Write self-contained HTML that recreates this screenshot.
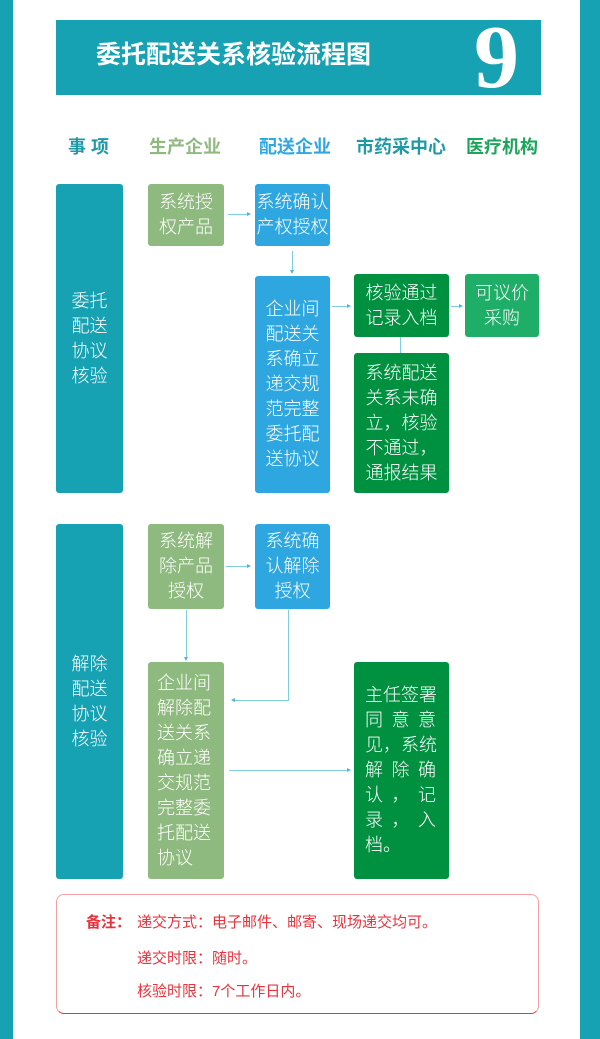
<!DOCTYPE html>
<html><head><meta charset="utf-8"><style>
*{margin:0;padding:0;box-sizing:border-box}
body{width:600px;height:1039px;background:#fff;position:relative;overflow:hidden;font-family:"Liberation Sans","Noto Sans CJK SC",sans-serif}
.a{position:absolute}
.b{position:absolute;border-radius:3px;color:#fff;font-size:18px;line-height:25px;display:flex;align-items:center;justify-content:center;text-align:center;font-weight:300}
.h{position:absolute;top:136px;font-size:18px;font-weight:bold;line-height:22px}
.l{position:absolute;background:#7fcde0}
.tr{position:absolute;width:0;height:0;border-left:4px solid #4bb8d0;border-top:2.5px solid transparent;border-bottom:2.5px solid transparent}
.tl{position:absolute;width:0;height:0;border-right:4px solid #4bb8d0;border-top:2.5px solid transparent;border-bottom:2.5px solid transparent}
.td{position:absolute;width:0;height:0;border-top:4px solid #4bb8d0;border-left:2.5px solid transparent;border-right:2.5px solid transparent}
.j{display:flex;justify-content:space-between;width:71px}
</style></head><body>
<div class="a" style="left:0;top:0;width:13px;height:1039px;background:#17a2b4"></div>
<div class="a" style="left:580px;top:0;width:20px;height:1039px;background:#17a2b4"></div>
<div class="a" style="left:56px;top:20px;width:485px;height:75px;background:#17a2b4"></div>
<div class="a" style="left:96px;top:40px;font-size:25px;font-weight:bold;color:#fff;line-height:30px">委托配送关系核验流程图</div>
<div class="a" style="left:474px;top:10px;font-family:'Liberation Serif',serif;font-size:90px;font-weight:bold;color:#fff;line-height:95px">9</div>

<div class="h" style="left:68px;color:#1e9aa6">事 项</div>
<div class="h" style="left:149px;color:#8fba7f">生产企业</div>
<div class="h" style="left:259px;color:#2ea7e0">配送企业</div>
<div class="h" style="left:356px;color:#1e9aa6">市药采中心</div>
<div class="h" style="left:466px;color:#1aa55a">医疗机构</div>

<div class="b" style="left:56px;top:184px;width:67px;height:309px;background:#17a2b4">委托<br>配送<br>协议<br>核验</div>
<div class="b" style="left:148px;top:184px;width:76px;height:62px;background:#8fba7f">系统授<br>权产品</div>
<div class="b" style="left:255px;top:184px;width:75px;height:62px;background:#2ea7e0">系统确认<br>产权授权</div>
<div class="b" style="left:255px;top:276px;width:75px;height:217px;background:#2ea7e0">企业间<br>配送关<br>系确立<br>递交规<br>范完整<br>委托配<br>送协议</div>
<div class="b" style="left:354px;top:274px;width:95px;height:63px;background:#009140">核验通过<br>记录入档</div>
<div class="b" style="left:465px;top:274px;width:74px;height:63px;background:#1fae68">可议价<br>采购</div>
<div class="b" style="left:354px;top:353px;width:95px;height:140px;background:#009140">系统配送<br>关系未确<br>立，核验<br>不通过，<br>通报结果</div>

<div class="l" style="left:228px;top:214px;width:19px;height:1px"></div><div class="tr" style="left:247px;top:212px"></div>
<div class="l" style="left:292px;top:251px;width:1px;height:19px"></div><div class="td" style="left:290px;top:270px"></div>
<div class="l" style="left:332px;top:306px;width:15px;height:1px"></div><div class="tr" style="left:347px;top:304px"></div>
<div class="l" style="left:451px;top:306px;width:8px;height:1px"></div><div class="tr" style="left:459px;top:304px"></div>
<div class="l" style="left:400px;top:337px;width:1px;height:16px"></div>

<div class="b" style="left:56px;top:524px;width:67px;height:355px;background:#17a2b4">解除<br>配送<br>协议<br>核验</div>
<div class="b" style="left:148px;top:524px;width:76px;height:85px;background:#8fba7f">系统解<br>除产品<br>授权</div>
<div class="b" style="left:255px;top:524px;width:75px;height:85px;background:#2ea7e0">系统确<br>认解除<br>授权</div>
<div class="b" style="left:148px;top:662px;width:76px;height:217px;background:#8fba7f;justify-content:flex-start;text-align:left;padding-left:9px">企业间<br>解除配<br>送关系<br>确立递<br>交规范<br>完整委<br>托配送<br>协议</div>
<div class="b" style="left:354px;top:662px;width:95px;height:217px;background:#009140;justify-content:flex-start;padding-left:11px;text-align:left"><div>
<div class="j"><span>主</span><span>任</span><span>签</span><span>署</span></div>
<div class="j"><span>同</span><span>意</span><span>意</span></div>
<div class="j"><span>见</span><span>，</span><span>系</span><span>统</span></div>
<div class="j"><span>解</span><span>除</span><span>确</span></div>
<div class="j"><span>认</span><span>，</span><span>记</span></div>
<div class="j"><span>录</span><span>，</span><span>入</span></div>
<div>档。</div></div></div>

<div class="l" style="left:226px;top:566px;width:21px;height:1px"></div><div class="tr" style="left:247px;top:564px"></div>
<div class="l" style="left:186px;top:610px;width:1px;height:48px"></div><div class="td" style="left:184px;top:657px"></div>
<div class="l" style="left:288px;top:610px;width:1px;height:91px"></div>
<div class="l" style="left:235px;top:700px;width:54px;height:1px"></div><div class="tl" style="left:231px;top:698px"></div>
<div class="l" style="left:229px;top:770px;width:118px;height:1px"></div><div class="tr" style="left:347px;top:768px"></div>

<div class="a" style="left:56px;top:894px;width:483px;height:120px;border:1px solid #f2a0a6;border-bottom-color:#e8333d;border-radius:8px"></div>
<div class="a" style="left:86px;top:912px;font-size:15px;color:#e8333d;line-height:22px"><b>备注：</b></div>
<div class="a" style="left:137px;top:912px;font-size:15px;color:#e8333d;line-height:22px">递交方式：电子邮件、邮寄、现场递交均可。</div>
<div class="a" style="left:137px;top:948px;font-size:15px;color:#e8333d;line-height:22px">递交时限：随时。</div>
<div class="a" style="left:137px;top:981px;font-size:15px;color:#e8333d;line-height:22px">核验时限：7个工作日内。</div>
</body></html>
